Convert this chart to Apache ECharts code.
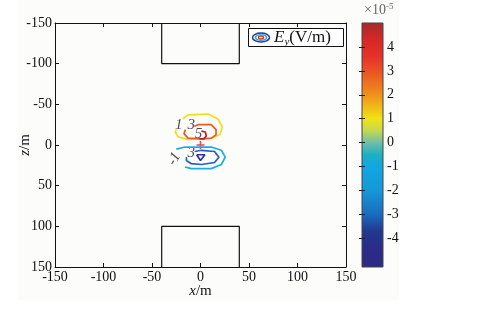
<!DOCTYPE html>
<html>
<head>
<meta charset="utf-8">
<script src="https://cdn.jsdelivr.net/npm/echarts@6/dist/echarts.min.js"></script>
<style>
html,body{margin:0;padding:0;background:#fff;}
#main{width:480px;height:310px;}
</style>
</head>
<body>
<div id="main"></div>
<script>
// contour lines of Ey, [x, z] in metres
var c_p1 = [[-18,-32],[-13,-37],[8,-38],[18,-32],[22.5,-22],[20,-13],[11,-8],[-13,-7],[-23,-10],[-26,-16],[-25,-19]];
var c_p3 = [[-6.5,-23],[-2.5,-25],[11,-25],[16,-19],[16,-12.5],[11,-8.5],[1,-7.5],[-13,-8.5],[-17,-14],[-15.5,-19]];
var c_p5 = [[1,-17],[5,-16],[6,-11],[3.5,-7.5],[-1,-7.5]];
var c_m1 = [[-25,5],[-16,2.5],[11,2.5],[21.5,6.5],[25.5,15],[21.5,24],[11,29],[-9.5,29],[-16,27]];
var c_m3 = [[-6,8],[1,6.5],[14.5,8],[19,15],[14.5,21.5],[1,24],[-9.5,23],[-14.5,19],[-14.5,15]];
var c_m5 = [[-4,12],[4.5,12],[0,19],[-4,12]];
var contourLevels = ['1', '3', '5', '-1', '-3', '-5'];
var contourColors = ['#f2dc1c', '#ec5a20', '#b82424', '#1eaae6', '#1c62c4', '#2e2e9e'];

// contour labels [x, z, text]
var cLabels = [[-22.5,-25,'1'],[-9.5,-24.5,'3'],[-2,-13.5,'5'],[-27,17,'-1'],[-9.5,10.5,'3']];

// the two blocks
var blockTop = [[-40,-150],[-40,-100],[40,-100],[40,-150]];
var blockBot = [[-40,150],[-40,100],[40,100],[40,150]];

// source point
var src = [[0,0]];

// colour bar (x1e-5)
var cbMin = -5.2, cbMax = 5;
var cbTicks = [-4,-3,-2,-1,0,1,2,3,4];
var cbVals = [5, 4.3, 3.6, 3, 2, 1, 0.5, 0, -0.5, -1, -2, -3, -3.7, -4.4, -5.2];
var cbCols = ['#a32a2c','#d82826','#e4322a','#ea5224','#f0901e','#f2e214','#c4d850','#70bea8','#1eb0c0','#12a6e2','#1498d8','#1a6cc0','#22388e','#2a2c88','#2c2a84'];

var serif = 'Liberation Serif';
var myChart = echarts.init(document.getElementById('main'));

var series = [];
[c_p1, c_p3, c_p5, c_m1, c_m3, c_m5].forEach(function (d, i) {
    series.push({
        name: contourLevels[i], type: 'line', data: d, symbol: 'none',
        xAxisIndex: 0, yAxisIndex: 0, silent: true, animation: false,
        lineStyle: {color: contourColors[i], width: 1.7}
    });
});
[blockTop, blockBot].forEach(function (d) {
    series.push({
        type: 'line', data: d, symbol: 'none', xAxisIndex: 0, yAxisIndex: 0,
        animation: false, lineStyle: {color: '#111', width: 1.2}
    });
});
series.push({
    type: 'scatter', data: src, xAxisIndex: 0, yAxisIndex: 0, animation: false,
    symbol: 'path://M4,0 L6,0 L6,4 L10,4 L10,6 L6,6 L6,10 L4,10 L4,6 L0,6 L0,4 L4,4 Z',
    symbolSize: 8, itemStyle: {color: '#e02020'}
});
series.push({
    type: 'scatter', xAxisIndex: 0, yAxisIndex: 0, animation: false, symbolSize: 0,
    data: cLabels.map(function (l) {
        return {value: [l[0], l[1]], name: l[2],
            label: {rotate: l[2] === '-1' ? 60 : 0}};
    }),
    label: {
        show: true, position: 'inside', formatter: '{b}',
        fontFamily: serif, fontStyle: 'italic', fontSize: 15, color: '#222'
    }
});
// colour bar
series.push({
    type: 'custom', xAxisIndex: 2, yAxisIndex: 2, animation: false, silent: true,
    data: [[0, cbMin, 1, cbMax]],
    renderItem: function (params, api) {
        var p0 = api.coord([api.value(0), api.value(3)]);
        var p1 = api.coord([api.value(2), api.value(1)]);
        var stops = cbVals.map(function (v, i) {
            return {offset: (cbMax - v) / (cbMax - cbMin), color: cbCols[i]};
        });
        return {
            type: 'rect',
            shape: {x: p0[0], y: p0[1], width: p1[0] - p0[0], height: p1[1] - p0[1]},
            style: {fill: {type: 'linear', x: 0, y: 0, x2: 0, y2: 1, colorStops: stops}}
        };
    }
});

var tickStyle = {color: '#111', fontFamily: serif, fontSize: 14};
var axLine = {show: true, onZero: false, lineStyle: {color: '#111', width: 1}};
var inTick = {inside: true, length: 4, lineStyle: {color: '#111'}};

option = {
    backgroundColor: '#fff',
    textStyle: {fontFamily: serif},
    graphic: [
        {type: 'rect', z: -10, shape: {x: 18, y: 0, width: 381, height: 300}, style: {fill: '#fcfcfa'}},
        {type: 'rect', z: 10, shape: {x: 248.5, y: 28.5, width: 95, height: 18}, style: {fill: '#fff', stroke: '#111', lineWidth: 1}},
        {type: 'ellipse', z: 11, shape: {cx: 261, cy: 37.5, rx: 8.5, ry: 4.5}, style: {fill: 'none', stroke: '#1c3aa0', lineWidth: 1.5}},
        {type: 'ellipse', z: 11, shape: {cx: 261, cy: 37.5, rx: 5.5, ry: 2.8}, style: {fill: 'none', stroke: '#22b0e0', lineWidth: 1.5}},
        {type: 'ellipse', z: 11, shape: {cx: 261, cy: 37.5, rx: 2.6, ry: 1.4}, style: {fill: '#fff', stroke: '#e03020', lineWidth: 1.4}},
        {type: 'text', z: 11, x: 274, y: 28, style: {
            text: '{e|E}{s|y}{n|(V/m)}',
            rich: {
                e: {fontFamily: serif, fontStyle: 'italic', fontSize: 17, fill: '#111'},
                s: {fontFamily: serif, fontStyle: 'italic', fontSize: 11, fill: '#111', padding: [9, 0, 0, 0]},
                n: {fontFamily: serif, fontSize: 17, fill: '#111'}
            }
        }},
        {type: 'text', x: 364, y: 2, style: {
            text: '{a|×10}{b|-5}',
            rich: {
                a: {fontFamily: serif, fontSize: 14, fill: '#666'},
                b: {fontFamily: serif, fontSize: 9, fill: '#666', padding: [0, 0, 8, 0]}
            }
        }}
    ],
    grid: [
        {left: 55, top: 23, width: 291, height: 244, show: false},
        {left: 362, top: 23, width: 21, height: 244, show: true, borderColor: '#444', borderWidth: 1, z: 5}
    ],
    xAxis: [
        {gridIndex: 0, type: 'value', min: -150, max: 150, interval: 50, position: 'bottom',
            name: '{i|x}/m', nameLocation: 'middle', nameGap: 17, nameMoveOverlap: false,
            nameTextStyle: {fontFamily: serif, fontSize: 15, color: '#111',
                rich: {i: {fontFamily: serif, fontStyle: 'italic', fontSize: 15, color: '#111'}}},
            axisLine: axLine, axisTick: inTick,
            axisLabel: Object.assign({margin: 3}, tickStyle), splitLine: {show: false}},
        {gridIndex: 0, type: 'value', min: -150, max: 150, interval: 50, position: 'top',
            axisLine: axLine, axisTick: inTick,
            axisLabel: {show: false}, splitLine: {show: false}},
        {gridIndex: 1, type: 'value', min: 0, max: 1, show: false}
    ],
    yAxis: [
        {gridIndex: 0, type: 'value', min: -150, max: 150, interval: 50, inverse: true, position: 'left',
            name: '{i|z}/m', nameLocation: 'middle', nameGap: 22, nameRotate: 90, nameMoveOverlap: false,
            nameTextStyle: {fontFamily: serif, fontSize: 15, color: '#111',
                rich: {i: {fontFamily: serif, fontStyle: 'italic', fontSize: 15, color: '#111'}}},
            axisLine: axLine, axisTick: inTick,
            axisLabel: Object.assign({margin: 3}, tickStyle), splitLine: {show: false}},
        {gridIndex: 0, type: 'value', min: -150, max: 150, interval: 50, inverse: true, position: 'right',
            axisLine: axLine, axisTick: inTick,
            axisLabel: {show: false}, splitLine: {show: false}},
        {gridIndex: 1, type: 'value', min: cbMin, max: cbMax, position: 'right',
            axisLine: {show: false},
            axisTick: {show: true, inside: true, length: 3, customValues: cbTicks, lineStyle: {color: '#222'}},
            axisLabel: Object.assign({margin: 4, customValues: cbTicks}, tickStyle), splitLine: {show: false}, z: 6},
        {gridIndex: 1, type: 'value', min: cbMin, max: cbMax, position: 'left',
            axisLine: {show: false},
            axisTick: {show: true, inside: true, length: 3, customValues: cbTicks, lineStyle: {color: '#222'}},
            axisLabel: {show: false}, splitLine: {show: false}, z: 6}
    ],
    series: series
};

myChart.setOption(option);
</script>
</body>
</html>
